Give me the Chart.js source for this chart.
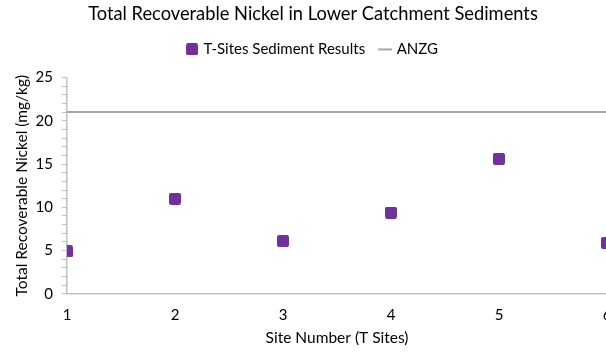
<!DOCTYPE html>
<html>
<head>
<meta charset="utf-8">
<script src="https://cdn.jsdelivr.net/npm/chart.js@4/dist/chart.umd.min.js"></script>
<style>
  html, body { margin: 0; padding: 0; background: #fff; overflow: hidden; }
  #wrap { width: 606px; height: 352px; overflow: hidden; }
  canvas { display: block; }
</style>
</head>
<body>
<div id="wrap"><canvas id="chart" width="626" height="352"></canvas></div>
<script>
// site numbers and nickel results (mg/kg)
const sites = [1, 2, 3, 4, 5, 6];
const nickel = [4.9, 11.0, 6.1, 9.4, 15.6, 5.9];
// ANZG guideline value
const anzgLevel = 21;
const anzgRange = [1, 6];

const purple = '#7030A0';
const grey = '#A6A6A6';
const axisGrey = '#BFBFBF';
const font = 'Lato, "Open Sans", sans-serif';

// small rounded square marker like the Excel one
function squareMarker(size, color) {
    const c = document.createElement('canvas');
    c.width = size;
    c.height = size;
    const g = c.getContext('2d');
    g.fillStyle = color;
    g.beginPath();
    if (g.roundRect) g.roundRect(0, 0, size, size, 2);
    else g.rect(0, 0, size, size);
    g.fill();
    return c;
}

const marker = squareMarker(12, purple);

new Chart(document.getElementById('chart'), {
    type: 'scatter',
    data: {
        datasets: [{
            label: 'T-Sites Sediment Results',
            data: sites.map((s, i) => ({ x: s, y: nickel[i] })),
            pointStyle: marker,
            backgroundColor: purple,
            borderColor: purple,
            order: 1
        }, {
            type: 'line',
            label: 'ANZG',
            data: anzgRange.map(x => ({ x: x, y: anzgLevel })),
            borderColor: grey,
            backgroundColor: grey,
            borderWidth: 2,
            pointRadius: 0,
            pointStyle: 'line',
            clip: false,
            order: 2
        }]
    },
    options: {
        responsive: false,
        animation: false,
        layout: { padding: { left: 0, right: 0, top: 1, bottom: 4.5 } },
        plugins: {
            title: {
                display: true,
                text: 'Total Recoverable Nickel in Lower Catchment Sediments',
                color: '#000',
                font: { family: font, size: 18.3, weight: 'normal' },
                padding: { top: 2, bottom: 1 }
            },
            // empty spacer between legend and plot
            subtitle: {
                display: true,
                text: '',
                weight: 500,
                font: { size: 1, lineHeight: 1 },
                padding: { top: 9.5, bottom: 0 }
            },
            legend: {
                display: true,
                labels: {
                    usePointStyle: true,
                    boxWidth: 8,
                    boxHeight: 10,
                    padding: 16,
                    color: '#000',
                    font: { family: font, size: 15 }
                }
            },
            tooltip: { enabled: false }
        },
        scales: {
            x: {
                type: 'linear',
                min: 1,
                max: 6,
                ticks: {
                    stepSize: 1,
                    color: '#000',
                    padding: 12,
                    font: { family: font, size: 15 }
                },
                grid: { display: true, drawOnChartArea: false, drawTicks: false },
                border: { color: axisGrey, width: 1.5 },
                title: {
                    display: true,
                    text: 'Site Number (T Sites)',
                    color: '#000',
                    font: { family: font, size: 15.5 },
                    padding: { top: -7, bottom: 0 }
                }
            },
            y: {
                min: 0,
                max: 25,
                afterFit: (scale) => { scale.width = 67; },
                ticks: {
                    stepSize: 1,
                    autoSkip: false,
                    color: '#000',
                    padding: 9,
                    font: { family: font, size: 15 },
                    callback: v => (v % 5 === 0 ? v : '')
                },
                grid: { display: true, drawOnChartArea: false, drawTicks: true, tickLength: 5, color: axisGrey },
                border: { color: axisGrey, width: 1.5 },
                title: {
                    display: true,
                    text: 'Total Recoverable Nickel (mg/kg)',
                    color: '#000',
                    font: { family: font, size: 15.5 },
                    padding: { top: 12.5, bottom: 0 }
                }
            },
            // blank right-hand axis, only reserves room so the plot ends near the crop edge
            yRight: {
                position: 'right',
                display: true,
                afterFit: (scale) => { scale.width = 19; },
                ticks: { display: false },
                grid: { display: false, drawTicks: false },
                border: { display: false }
            }
        }
    }
});
</script>
</body>
</html>
